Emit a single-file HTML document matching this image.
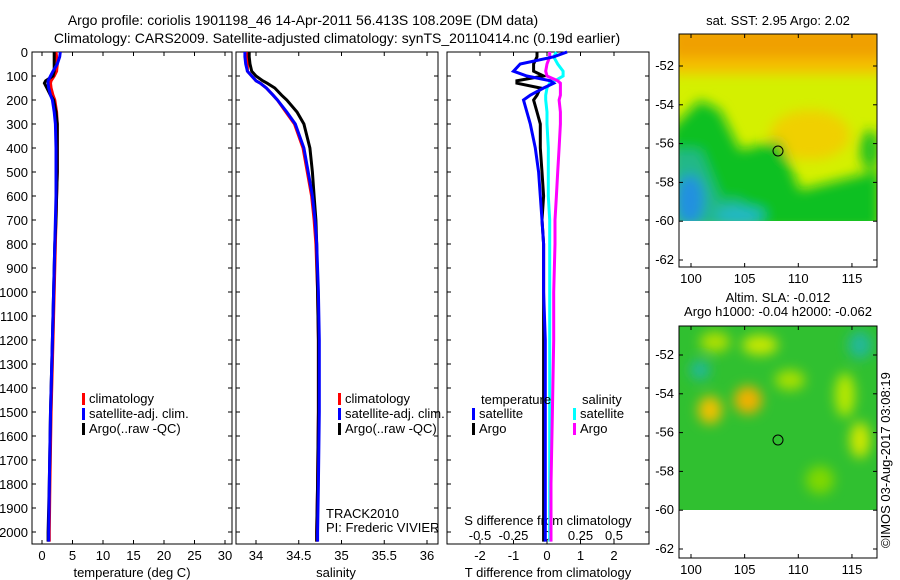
<!DOCTYPE html>
<html><head><meta charset="utf-8"><style>
body{margin:0;background:#fff}
svg{display:block;font-family:"Liberation Sans",sans-serif}
text{font-size:13px;fill:#000}
</style></head><body>
<svg id="c" width="900" height="580">
<defs>
<filter id="bl" x="-50%" y="-50%" width="200%" height="200%"><feGaussianBlur stdDeviation="6"/></filter>
<clipPath id="m1"><rect x="679" y="34" width="198" height="187"/></clipPath>
<clipPath id="m2"><rect x="679" y="326" width="198" height="184"/></clipPath>
</defs>
<text x="303" y="25" text-anchor="middle" style="font-size:14px">Argo profile: coriolis 1901198_46 14-Apr-2011 56.413S 108.209E (DM data)</text>
<text x="337" y="43" text-anchor="middle" style="font-size:14px">Climatology: CARS2009. Satellite-adjusted climatology: synTS_20110414.nc (0.19d earlier)</text>
<g id="p1"></g>
<g id="p2"></g>
<g id="p3"></g>

<g>
<text x="778" y="25" text-anchor="middle">sat. SST: 2.95 Argo: 2.02</text>
<g clip-path="url(#m1)">
<rect x="679" y="34" width="198" height="187" fill="#d4f000"/>
<g filter="url(#bl)">
<rect x="670" y="25" width="215" height="40" fill="#f0a000"/>
<rect x="670" y="58" width="215" height="16" fill="#f5c000"/>
<ellipse cx="810" cy="135" rx="40" ry="25" fill="#f0d000"/>
<path d="M670 130 L700 100 L720 110 L740 150 L780 140 L800 190 L880 170 L880 230 L670 230Z" fill="#10c020"/>
<path d="M670 150 L700 150 L720 200 L740 200 L760 230 L670 230Z" fill="#20b888"/>
<ellipse cx="690" cy="200" rx="14" ry="25" fill="#2090e0"/>
<ellipse cx="740" cy="215" rx="25" ry="8" fill="#20b8c8"/>
<ellipse cx="870" cy="150" rx="10" ry="20" fill="#20c020"/>
</g>
</g>
<circle cx="778" cy="151" r="5" fill="none" stroke="#000"/>
<rect x="679" y="34" width="198" height="233" fill="none" stroke="#000"/>
<g id="ax1"></g>
</g>

<g>
<text x="778" y="302" text-anchor="middle">Altim. SLA: -0.012</text>
<text x="778" y="316" text-anchor="middle">Argo h1000: -0.04 h2000: -0.062</text>
<g clip-path="url(#m2)">
<rect x="679" y="326" width="198" height="184" fill="#30c030"/>
<g filter="url(#bl)">
<ellipse cx="715" cy="342" rx="15" ry="10" fill="#b0e000"/>
<ellipse cx="760" cy="345" rx="18" ry="10" fill="#c8e800"/>
<ellipse cx="748" cy="400" rx="14" ry="14" fill="#f0b000"/>
<ellipse cx="710" cy="410" rx="12" ry="14" fill="#f0c000"/>
<ellipse cx="790" cy="380" rx="15" ry="10" fill="#a8e000"/>
<ellipse cx="845" cy="395" rx="10" ry="22" fill="#b8e800"/>
<ellipse cx="860" cy="440" rx="10" ry="18" fill="#d0e800"/>
<ellipse cx="860" cy="345" rx="12" ry="14" fill="#20b898"/>
<ellipse cx="700" cy="370" rx="10" ry="10" fill="#20b898"/>
<ellipse cx="820" cy="480" rx="14" ry="14" fill="#80d800"/>
</g>
</g>
<circle cx="778" cy="440" r="5" fill="none" stroke="#000"/>
<rect x="679" y="326" width="198" height="232" fill="none" stroke="#000"/>
<g id="ax2"></g>
</g>
<text transform="translate(890,548) rotate(-90)">©IMOS 03-Aug-2017 03:08:19</text>
</svg>
<script>
const NS="http://www.w3.org/2000/svg";
const svg=document.getElementById('c');
// ---- data ----
const depthTicks=[0,100,200,300,400,500,600,700,800,900,1000,1100,1200,1300,1400,1500,1600,1700,1800,1900,2000];
const tTicks=[0,5,10,15,20,25,30];
const sTicks=[34,34.5,35,35.5,36];
const dtTicks=[-2,-1,0,1,2];
const dsTicks=[-0.5,-0.25,0,0.25,0.5];
const depths=[0,20,50,80,100,120,130,150,180,200,250,300,400,500,600,700,800,1000,1200,1500,1800,2000,2040];
const tClim=[2.3,2.4,2.5,2.4,2.0,1.5,1.4,1.5,1.8,2.1,2.4,2.5,2.5,2.5,2.4,2.3,2.2,2.0,1.8,1.5,1.3,1.2,1.2];
const tSat=[3.0,2.9,2.5,1.8,1.4,1.0,1.0,1.1,1.4,1.7,2.0,2.2,2.3,2.3,2.3,2.2,2.1,1.9,1.7,1.4,1.2,1.1,1.1];
const tArgo=[2.0,2.0,2.0,2.0,1.8,0.6,0.4,0.8,1.4,1.9,2.3,2.5,2.5,2.5,2.4,2.3,2.1,1.9,1.7,1.4,1.2,1.0,1.0];
const sClim=[33.9,33.9,33.9,33.9,33.95,34.0,34.05,34.12,34.2,34.25,34.35,34.45,34.55,34.6,34.65,34.68,34.7,34.72,34.73,34.73,34.72,34.71,34.71];
const sSat=[33.87,33.87,33.88,33.9,33.95,34.0,34.05,34.12,34.2,34.25,34.36,34.46,34.56,34.61,34.66,34.69,34.71,34.73,34.74,34.74,34.73,34.72,34.72];
const sArgo=[33.92,33.92,33.93,33.95,34.0,34.08,34.13,34.22,34.3,34.36,34.48,34.56,34.63,34.66,34.68,34.7,34.71,34.72,34.73,34.73,34.72,34.71,34.71];
const dTsat=[0.6,0.2,-0.8,-1.0,-0.6,0.1,0.2,-0.1,-0.5,-0.7,-0.6,-0.5,-0.35,-0.25,-0.2,-0.15,-0.1,-0.1,-0.05,-0.05,-0.05,-0.05,-0.05];
const dTargo=[-0.3,-0.3,-0.4,-0.4,-0.1,-0.9,-0.9,-0.2,-0.3,-0.4,-0.3,-0.2,-0.2,-0.15,-0.1,-0.15,-0.1,-0.1,-0.1,-0.1,-0.1,-0.1,-0.1];
const dSsat=[0.07,0.05,0.08,0.12,0.12,0.06,0.02,0.0,-0.01,-0.01,0.0,0.0,0.01,0.01,0.01,0.02,0.02,0.02,0.02,0.02,0.02,0.02,0.02];
const dSargo=[0.02,0.02,0.0,-0.01,0.0,0.08,0.1,0.1,0.1,0.09,0.1,0.1,0.09,0.08,0.07,0.06,0.06,0.05,0.05,0.04,0.03,0.03,0.03];
const lonTicks=[100,105,110,115];
const latTicks=[-52,-54,-56,-58,-60,-62];

function el(tag,attrs,parent,txt){const e=document.createElementNS(NS,tag);for(const k in attrs)e.setAttribute(k,attrs[k]);if(txt!==undefined)e.textContent=txt;(parent||svg).appendChild(e);return e;}
const TOP=52,BOT=544;
const Y=d=>TOP+d*0.24;
function frame(g,x0,x1,name){
  const r=el('rect',{x:x0,y:TOP,width:x1-x0,height:BOT-TOP,fill:'none',stroke:'#000'},g);
  
  
}
function yTicks(g,x0,x1,labels){
  depthTicks.forEach(d=>{
    el('line',{x1:x0,x2:x0+4,y1:Y(d),y2:Y(d),stroke:'#000'},g);
    el('line',{x1:x1,x2:x1-4,y1:Y(d),y2:Y(d),stroke:'#000'},g);
    if(labels){const t=el('text',{x:x0-4,y:Y(d)+5,'text-anchor':'end'},g,String(d));
      
      }
  });
}
function xTicks(g,ticks,X,top,bot,ly,fmt){
  ticks.forEach(v=>{
    if(bot){el('line',{x1:X(v),x2:X(v),y1:BOT,y2:BOT-4,stroke:'#000'},g);}
    if(top){el('line',{x1:X(v),x2:X(v),y1:TOP,y2:TOP+4,stroke:'#000'},g);}
    const t=el('text',{x:X(v),y:ly,'text-anchor':'middle'},g,fmt?fmt(v):String(v));
    
    
  });
}
function line(g,xs,X,color,name){
  const p=el('polyline',{points:depths.map((d,i)=>X(xs[i]).toFixed(1)+','+Y(d).toFixed(1)).join(' '),fill:'none',stroke:color,'stroke-width':3},g);
  
  
}
function legend(g,x,y,items){
  items.forEach((it,i)=>{
    el('rect',{x:x,y:y+i*15-10,width:3,height:12,fill:it[1]},g);
    const t=el('text',{x:x+7,y:y+i*15},g,it[0]);
    
    
  });
}
// Panel 1
const g1=document.getElementById('p1');
const X1=v=>42+v*6.1;
frame(g1,32,232,'temperature-frame');yTicks(g1,32,232,true);
xTicks(g1,tTicks,X1,true,true,560);
line(g1,tClim,X1,'#f00','climatology-line');line(g1,tArgo,X1,'#000','argo-line');line(g1,tSat,X1,'#00f','satellite-line');
legend(g1,82,403,[['climatology','#f00'],['satellite-adj. clim.','#00f'],['Argo(..raw -QC)','#000']]);
const xl1=el('text',{x:132,y:577,'text-anchor':'middle'},g1,'temperature (deg C)');

// Panel 2
const g2=document.getElementById('p2');
const X2=v=>256+(v-34)*85.5;
frame(g2,236,438,'salinity-frame');yTicks(g2,236,438,false);
xTicks(g2,sTicks,X2,true,true,560);
line(g2,sClim,X2,'#f00','climatology-line');line(g2,sArgo,X2,'#000','argo-line');line(g2,sSat,X2,'#00f','satellite-line');
legend(g2,338,403,[['climatology','#f00'],['satellite-adj. clim.','#00f'],['Argo(..raw -QC)','#000']]);
el('text',{x:326,y:518},g2,'TRACK2010');el('text',{x:326,y:532},g2,'PI: Frederic VIVIER');
const xl2=el('text',{x:336,y:577,'text-anchor':'middle'},g2,'salinity');

// Panel 3
const g3=document.getElementById('p3');
const XT=v=>547+v*33.5, XS=v=>547+v*134;
frame(g3,447,649,'difference-frame');yTicks(g3,447,649,false);
xTicks(g3,dtTicks,XT,true,true,560);
xTicks(g3,dsTicks,XS,false,false,540,v=>v===0?'0':String(v));
el('text',{x:548,y:525,'text-anchor':'middle'},g3,'S difference from climatology');
line(g3,dTargo,XT,'#000','t-argo-diff-line');line(g3,dSsat,XS,'#0ff','s-satellite-diff-line');line(g3,dSargo,XS,'#f0f','s-argo-diff-line');line(g3,dTsat,XT,'#00f','t-satellite-diff-line');
el('text',{x:481,y:404},g3,'temperature');el('text',{x:582,y:404},g3,'salinity');
legend(g3,472,418,[['satellite','#00f'],['Argo','#000']]);
legend(g3,573,418,[['satellite','#0ff'],['Argo','#f0f']]);
const xl3=el('text',{x:548,y:577,'text-anchor':'middle'},g3,'T difference from climatology');

// map axes
function mapAxes(g,top,bot,latY){
  const LX=v=>691+(v-100)*10.73;
  lonTicks.forEach(v=>{el('line',{x1:LX(v),x2:LX(v),y1:top,y2:top+4,stroke:'#000'},g);el('line',{x1:LX(v),x2:LX(v),y1:bot,y2:bot-4,stroke:'#000'},g);
    const t=el('text',{x:LX(v),y:bot+16,'text-anchor':'middle'},g,String(v));
    });
  latTicks.forEach(v=>{const y=latY(v);el('line',{x1:679,x2:683,y1:y,y2:y,stroke:'#000'},g);el('line',{x1:877,x2:873,y1:y,y2:y,stroke:'#000'},g);
    const t=el('text',{x:674,y:y+4,'text-anchor':'end'},g,String(v));
    });
}
mapAxes(document.getElementById('ax1'),34,267,v=>66+(-52-v)*19.4);
mapAxes(document.getElementById('ax2'),326,558,v=>355+(-52-v)*19.4);
</script>
</body></html>
